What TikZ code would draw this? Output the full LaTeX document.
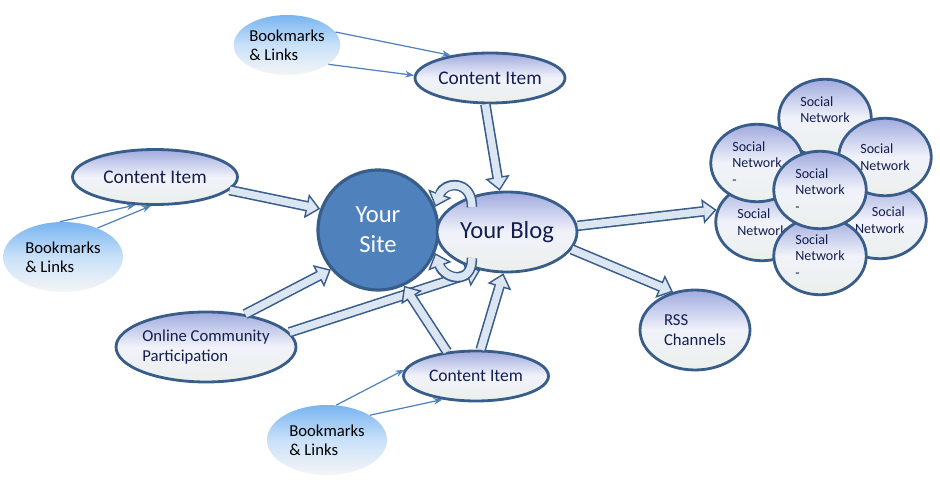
\documentclass[tikz,border=0pt]{standalone}
\usepackage{fontspec}
\setmainfont{Carlito}
\usetikzlibrary{shapes.geometric,arrows.meta}
\definecolor{edge}{RGB}{56,93,138}
\definecolor{sitefill}{RGB}{79,129,189}
\definecolor{lav}{RGB}{160,170,222}
\definecolor{sky}{RGB}{120,180,240}
\definecolor{shaft}{RGB}{220,230,242}
\definecolor{textblue}{RGB}{20,30,80}
\tikzset{
  bubble/.style={ellipse, draw=edge, line width=1.6pt, top color=lav, bottom color=white!90!green!60!gray!30, middle color=white!85!lav, align=center, text=textblue, inner sep=0pt},
  bookmark/.style={ellipse, draw=none, top color=sky, bottom color=white!92!gray, middle color=sky!40, align=center, text=black, inner sep=0pt, font=\fontsize{9.5}{11}\selectfont},
  social/.style={bubble, font=\fontsize{8}{9.5}\selectfont, minimum width=1.85cm, minimum height=1.55cm, align=left},
  link/.style={draw=sitefill, line width=0.7pt, -{Stealth[length=5pt]}},
}
\newcommand{\blockarrow}[3][]{%
  \draw[edge, line width=6pt, -{Triangle[length=8pt 0, width=14pt 0, fill=shaft, line width=0.8pt]}] #2 to[#1] #3;
  \draw[shaft, line width=4.2pt, shorten >=7pt] #2 to[#1] #3;}
\begin{document}
\begin{tikzpicture}[x=0.02cm,y=-0.02cm]
\useasboundingbox (0,0) rectangle (940,486);
		%social networks
		\node[social] (snLL) at (762,222) {Social\\Network};
		\node[social] (snLR) at (880,220) {\hspace*{1.2em}Social\\Network};
		\node[social] (snB) at (820,256) {Social\\Network\\-};
		\node[social] (snT) at (825,118) {Social\\Network\\ };
		\node[social] (snR) at (885,157) {Social\\Network};
		\node[social] (snUL) at (757,163) {Social\\Network\\-};
		\node[social] (snC) at (820,190) {Social\\Network\\-};
		
		%main nodes
		\node[circle, draw=edge, line width=1.8pt, fill=sitefill, minimum size=2.4cm, align=center, text=white, font=\fontsize{14}{17}\selectfont] (site) at (378,230) {Your\\Site};
		\node[bubble, minimum width=2.8cm, minimum height=1.6cm, font=\fontsize{14}{16}\selectfont] (blog) at (507,232) {Your Blog};
		\node[bubble, minimum width=3cm, minimum height=1cm, font=\fontsize{11}{13}\selectfont] (ciT) at (490,78) {Content Item};
		\node[bubble, minimum width=3.3cm, minimum height=1.1cm, font=\fontsize{11}{13}\selectfont] (ciL) at (155,177) {Content Item};
		\node[bubble, minimum width=2.9cm, minimum height=1cm, font=\fontsize{10}{12}\selectfont] (ciB) at (476,376) {Content Item};
		\node[bubble, minimum width=3.6cm, minimum height=1.4cm, align=left, font=\fontsize{9.5}{11.5}\selectfont] (ocp) at (206,347) {Online Community\\Participation};
		\node[bubble, minimum width=2.2cm, minimum height=1.6cm, align=left, font=\fontsize{9.5}{11.5}\selectfont] (rss) at (695,330) {RSS\\Channels};
		
		%bookmarks
		\node[bookmark, minimum width=1.9cm, minimum height=1.2cm, align=left] (bmT) at (287,45) {Bookmarks\\\& Links};
		\node[bookmark, minimum width=2.4cm, minimum height=1.4cm, align=left] (bmL) at (63,257) {Bookmarks\\\& Links};
		\node[bookmark, minimum width=2.4cm, minimum height=1.4cm, align=left] (bmB) at (327,440) {Bookmarks\\\& Links};
		
		%thin links
		\draw[link] (bmT.15) -- (ciT.150);
		\draw[link] (bmT.-25) -- (ciT.178);
		\draw[link] (bmL.95) -- (ciL.235);
		\draw[link] (bmL.40) -- (ciL.262);
		\draw[link] (bmB.75) -- (ciB.175);
		\draw[link] (bmB.30) -- (ciB.215);
		
		%block arrows
		\blockarrow{(ciL.-10)}{(site.160)}
		\blockarrow{(ocp.40)}{(site.220)}
		\blockarrow{(ocp.10)}{(blog.-125)}
		\blockarrow{(ciB.140)}{(site.-65)}
		\blockarrow{(ciB.80)}{(blog.-95)}
		\blockarrow{(ciT.-100)}{(blog.100)}
		\blockarrow{(blog.5)}{(snLL.165)}
		\blockarrow{(blog.-15)}{(rss.120)}
		
		%cycle
		\coordinate (cT) at (472,207);
		\coordinate (cB) at (472,258);
		\blockarrow[out=90,in=70,looseness=1.9]{(cT)}{(site.22)}
		\blockarrow[out=-90,in=-70,looseness=1.9]{(cB)}{(site.-22)}
	
	\end{tikzpicture}
\end{document}
